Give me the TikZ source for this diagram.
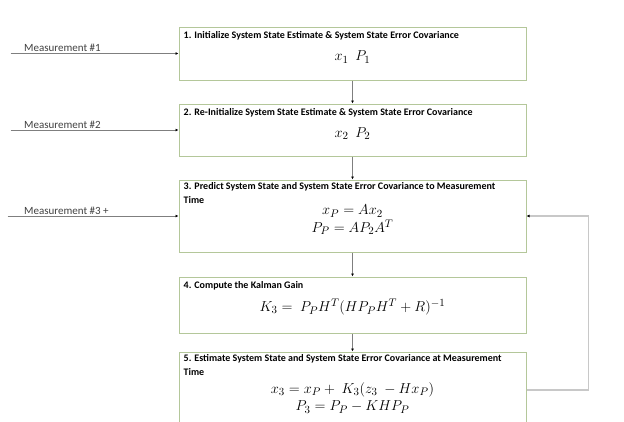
\documentclass[tikz,border=0pt]{standalone}
\usepackage{fontspec}
\setmainfont{Carlito}
\usetikzlibrary{arrows.meta,positioning,calc}
\definecolor{boxline}{HTML}{B4C79A}
\definecolor{wire}{HTML}{7F7F7F}
\definecolor{loopline}{HTML}{C8C8C8}

\begin{document}
\begin{tikzpicture}[x=1pt,y=-1pt,
    node distance=23pt,
    box/.style={draw=boxline, line width=1pt, minimum width=347pt,
                minimum height=#1, inner sep=0pt},
    title/.style={font=\fontsize{10}{13.5}\selectfont\bfseries, anchor=north west,
                  align=left, inner sep=0pt},
    eqn/.style={font=\fontsize{15}{17.5}\selectfont, align=center, inner sep=0pt},
    meas/.style={font=\fontsize{11}{13}\selectfont, text=black!75, anchor=south west,
                 inner sep=1.5pt},
    arr/.style={-{Latex[length=3pt,width=3pt,color=black]}, wire, line width=0.6pt},
    fback/.style={-{Latex[length=3pt,width=3pt,color=black]}, loopline, line width=1.2pt},
  ]
  \useasboundingbox (0,0) rectangle (624,421);

  % the five steps
  \node[box=53pt] (init) at (352.5,53.5) {};
  \node[box=52pt, below=23pt of init] (reinit) {};
  \node[box=72pt, below=23pt of reinit] (predict) {};
  \node[box=56pt, below=24pt of predict] (gain) {};
  \node[box=76pt, below=18pt of gain] (update) {};

  \node[title, xshift=5pt, yshift=-5pt] at (init.north west)
    {1. Initialize System State Estimate \& System State Error Covariance};
  \node[eqn, yshift=-3.5pt] at (init.center) {$x_1\ \ P_1$};

  \node[title, xshift=5pt, yshift=-5pt] at (reinit.north west)
    {2. Re-Initialize System State Estimate \& System State Error Covariance};
  \node[eqn, yshift=-3.5pt] at (reinit.center) {$x_2\ \ P_2$};

  \node[title, xshift=5pt, yshift=-3pt] at (predict.north west)
    {3. Predict System State and System State Error Covariance to Measurement\\Time};
  \node[eqn, yshift=-4pt] at (predict.center)
    {$x_P = Ax_2$\\$P_P = AP_2A^T$};

  \node[title, xshift=5pt, yshift=-5pt] at (gain.north west)
    {4. Compute the Kalman Gain};
  \node[eqn, yshift=-2pt] at (gain.center)
    {$K_3 =\ P_PH^T(HP_PH^T + R)^{-1}$};

  \node[title, xshift=5pt, yshift=-3pt] at (update.north west)
    {5. Estimate System State and System State Error Covariance at Measurement\\Time};
  \node[eqn, yshift=-8pt] at (update.center)
    {$x_3 = x_P +\ K_3(z_3\ - Hx_P)$\\$P_3 = P_P - KHP_P$};

  % measurements coming in
  \coordinate (m1) at ([xshift=-168pt]init.west);
  \coordinate (m2) at ([xshift=-168pt]reinit.west);
  \coordinate (m3) at ([xshift=-171pt]predict.west);
  \node[meas, xshift=12pt] at (m1) {Measurement \#1};
  \node[meas, xshift=12pt] at (m2) {Measurement \#2};
  \node[meas, xshift=15pt] at (m3) {Measurement \#3 +};
  \draw[arr] (m1) -- (init);
  \draw[arr] (m2) -- (reinit);
  \draw[arr] (m3) -- (predict);

  % step to step
  \draw[arr] (init) -- (reinit);
  \draw[arr] (reinit) -- (predict);
  \draw[arr] (predict) -- (gain);
  \draw[arr] (gain) -- (update);

  % loop back
  \draw[fback] (update.east) -- ++(62,0) |- (predict.east);
\end{tikzpicture}
\end{document}
